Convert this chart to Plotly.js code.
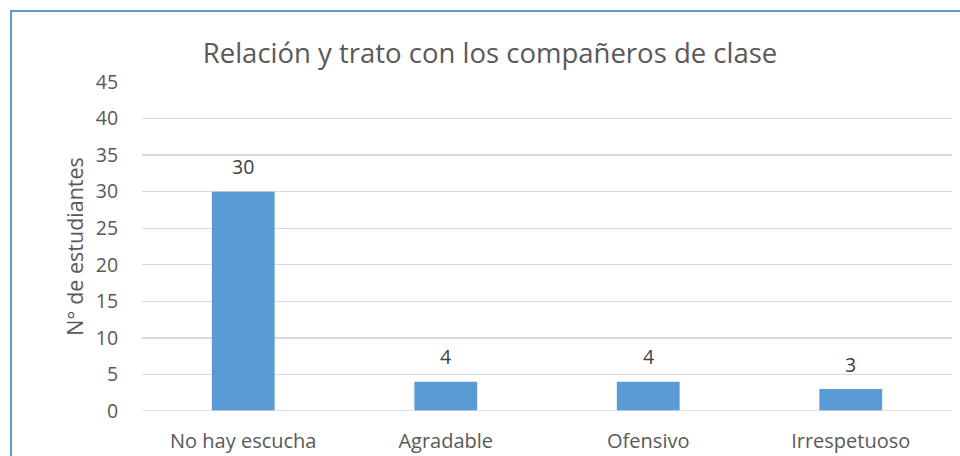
<!DOCTYPE html>
<html>
<head>
<meta charset="utf-8">
<script src="https://cdn.plot.ly/plotly-3.0.1.min.js"></script>
<style>
html,body{margin:0;padding:0;background:#fff;}
#chart{width:960px;height:456px;position:absolute;left:0;top:0;}
#frame{position:absolute;left:10px;top:10px;width:980px;height:480px;border-left:2px solid #5B9BD5;border-top:2px solid #5B9BD5;pointer-events:none;}
</style>
</head>
<body>
<div id="chart"></div>
<div id="frame"></div>
<script>
const categories = ["No hay escucha", "Agradable", "Ofensivo", "Irrespetuoso"];
const values = [30, 4, 4, 3];
const yTicks = [0, 5, 10, 15, 20, 25, 30, 35, 40, 45];

const font = "'Open Sans', 'Liberation Sans', sans-serif";
const annotations = categories.map((c, i) => ({
  x: c, y: values[i], xref: 'x', yref: 'y', text: String(values[i]),
  showarrow: false, yanchor: 'middle', yshift: 25,
  font: {family: font, size: 19.5, color: '#404040'}
}));
Plotly.newPlot('chart', [{
  type: 'bar',
  x: categories,
  y: values,
  marker: {color: '#5B9BD5'},
  width: 0.31,
  hoverinfo: 'none'
}], {
  width: 960, height: 456,
  margin: {l: 142, r: 8, t: 82, b: 45},
  paper_bgcolor: '#fff', plot_bgcolor: '#fff',
  showlegend: false,
  annotations: annotations,
  title: {text: 'Relación y trato con los compañeros de clase', x: 490/960, xref: 'container', xanchor: 'center', y: 1 - 53/456, yref: 'container', yanchor: 'middle', font: {family: font, size: 27.5, color: '#595959'}},
  xaxis: {showline: false, showgrid: false, zeroline: false, ticks: 'outside', ticklen: 12, tickcolor: 'rgba(0,0,0,0)', tickfont: {family: font, size: 20, color: '#595959'}, automargin: false},
  yaxis: {range: [0, 45], tickvals: yTicks, ticktext: yTicks.map(String), showgrid: true, gridcolor: '#D9D9D9', gridwidth: 1.3, zeroline: false, showline: false, ticks: 'outside', ticklen: 19, tickcolor: 'rgba(0,0,0,0)', tickfont: {family: font, size: 19.5, color: '#595959'},
    title: {text: 'N° de estudiantes', font: {family: font, size: 21.5, color: '#595959'}, standoff: 6}},
  shapes: [{type: 'line', xref: 'paper', yref: 'y', x0: 0, x1: 1, y0: 0, y1: 0, line: {color: '#D9D9D9', width: 1.3}}]
}, {displayModeBar: false, staticPlot: true});
</script>
</body>
</html>
